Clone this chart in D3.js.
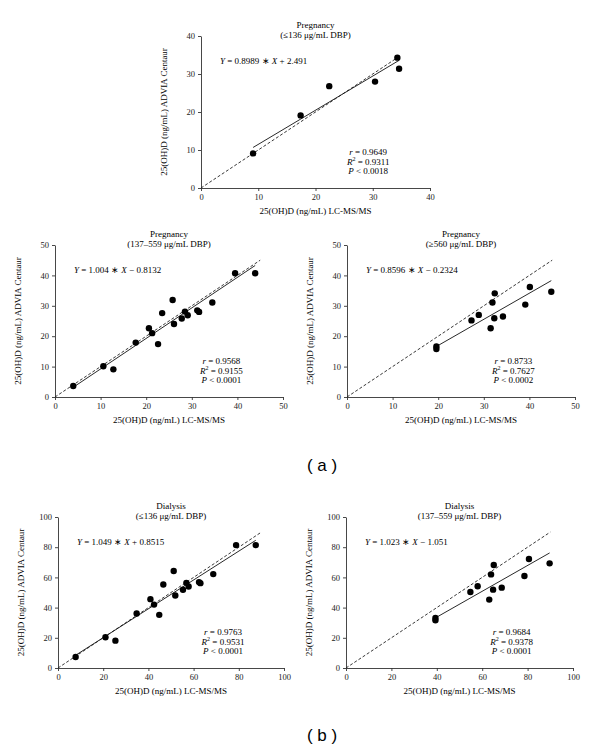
<!DOCTYPE html>
<html>
<head>
<meta charset="utf-8">
<script src="https://cdn.jsdelivr.net/npm/d3@7"></script>
<style>
  html, body { margin: 0; padding: 0; background: #fff; }
  svg { display: block; }
</style>
</head>
<body>
<svg id="chart" width="600" height="750"></svg>
<script>
// ---------------- DATA ----------------
// Panel titles
const panelTitles = ["Pregnancy", "Pregnancy", "Pregnancy", "Dialysis", "Dialysis"];
const panelSubtitles = ["(≤136 μg/mL DBP)", "(137–559 μg/mL DBP)", "(≥560 μg/mL DBP)", "(≤136 μg/mL DBP)", "(137–559 μg/mL DBP)"];

// Pregnancy ≤136
const pregLowX = [9.1, 17.4, 22.4, 30.4, 34.3, 34.6];
const pregLowY = [9.1, 19.1, 26.8, 28.0, 34.3, 31.4];
// Pregnancy 137–559
const pregMidX = [4.0, 10.6, 12.8, 17.7, 20.6, 21.3, 22.6, 23.5, 25.8, 26.1, 27.8, 28.5, 29.1, 31.2, 31.6, 34.5, 39.5, 43.9];
const pregMidY = [3.6, 10.1, 9.1, 17.9, 22.6, 21.0, 17.4, 27.6, 31.9, 24.0, 25.8, 28.1, 26.9, 28.5, 28.0, 31.1, 40.7, 40.7];
// Pregnancy ≥560
const pregHighX = [19.6, 19.6, 27.3, 28.9, 31.5, 31.9, 32.4, 32.3, 34.2, 39.1, 40.1, 44.8];
const pregHighY = [16.6, 15.8, 25.2, 27.0, 22.6, 31.1, 34.1, 25.9, 26.5, 30.4, 36.2, 34.6];
// Dialysis ≤136
const dialLowX = [7.8, 21.0, 25.4, 34.8, 40.9, 42.5, 44.8, 46.6, 51.2, 51.9, 55.3, 56.8, 57.8, 62.4, 63.0, 68.7, 78.8, 87.5];
const dialLowY = [7.3, 20.4, 18.1, 36.1, 45.6, 42.0, 35.2, 55.3, 64.2, 48.0, 51.8, 56.4, 54.0, 56.9, 56.2, 62.2, 81.4, 81.4];
// Dialysis 137–559
const dialMidX = [39.4, 39.4, 54.8, 58.0, 63.1, 63.9, 65.1, 64.8, 68.6, 78.6, 80.6, 89.7];
const dialMidY = [33.1, 31.6, 50.3, 54.1, 45.3, 62.0, 68.2, 51.9, 53.2, 60.9, 72.2, 69.3];

// Axis maxima and ticks
const axisMax = [40, 50, 50, 100, 100];
const ticks40 = [0, 10, 20, 30, 40];
const ticks50 = [0, 10, 20, 30, 40, 50];
const ticks100 = [0, 20, 40, 60, 80, 100];

// Regression equations (as printed)
const eqSlopeText = ["0.8989", "1.004", "0.8596", "1.049", "1.023"];
const eqSign = ["+", "−", "−", "+", "−"];
const eqInterceptText = ["2.491", "0.8132", "0.2324", "0.8515", "1.051"];
// Fitted lines as drawn in the figure
const fitSlope = [0.8989, 1.004, 0.8596, 0.955, 0.855];
const fitIntercept = [2.491, -0.8132, -0.2324, 1.0, -0.5];
// Line of identity extent (dashed)
const identityEnd = [34, 45, 45, 90, 90];

// Statistics
const statR = ["0.9649", "0.9568", "0.8733", "0.9763", "0.9684"];
const statR2 = ["0.9311", "0.9155", "0.7627", "0.9531", "0.9378"];
const statP = ["0.0018", "0.0001", "0.0002", "0.0001", "0.0001"];

const xLabel = "25(OH)D (ng/mL) LC-MS/MS";
const yLabel = "25(OH)D (ng/mL) ADVIA Centaur";
const groupLabels = ["( a )", "( b )"];

// ---------------- LAYOUT ----------------
const serif = "'Liberation Serif', 'Times New Roman', serif";
const svg = d3.select("#chart");

const panels = [
  { x: pregLowX, y: pregLowY, ticks: ticks40, box: [201, 430, 36, 188] },
  { x: pregMidX, y: pregMidY, ticks: ticks50, box: [55, 283, 245, 397] },
  { x: pregHighX, y: pregHighY, ticks: ticks50, box: [347, 575, 245, 397] },
  { x: dialLowX, y: dialLowY, ticks: ticks100, box: [58, 284, 517, 668] },
  { x: dialMidX, y: dialMidY, ticks: ticks100, box: [346, 573, 517, 668] }
];

panels.forEach((p, i) => {
  const [x0, x1, yT, yB] = p.box;
  const xs = d3.scaleLinear().domain([0, axisMax[i]]).range([x0, x1]);
  const ys = d3.scaleLinear().domain([0, axisMax[i]]).range([yB, yT]);
  const g = svg.append("g");

  // axes
  const xa = g.append("g").attr("transform", `translate(0,${yB})`)
    .call(d3.axisBottom(xs).tickValues(p.ticks).tickSize(3).tickSizeOuter(0).tickPadding(3));
  const ya = g.append("g").attr("transform", `translate(${x0},0)`)
    .call(d3.axisLeft(ys).tickValues(p.ticks).tickSize(3).tickSizeOuter(0).tickPadding(3));
  [xa, ya].forEach(a => {
    a.selectAll("text").attr("font-family", serif).attr("font-size", 8.5).attr("fill", "#222");
    a.selectAll("path, line").attr("stroke", "#333").attr("stroke-width", 0.9);
  });

  // identity line
  const idEnd = identityEnd[i];
  g.append("line")
    .attr("x1", xs(0)).attr("y1", ys(0)).attr("x2", xs(idEnd)).attr("y2", ys(idEnd))
    .attr("stroke", "#222").attr("stroke-width", 0.9).attr("stroke-dasharray", "3,2");

  // regression line
  const xmin = d3.min(p.x), xmax = d3.max(p.x);
  g.append("line")
    .attr("x1", xs(xmin)).attr("y1", ys(fitSlope[i] * xmin + fitIntercept[i]))
    .attr("x2", xs(xmax)).attr("y2", ys(fitSlope[i] * xmax + fitIntercept[i]))
    .attr("stroke", "#111").attr("stroke-width", 0.9);

  // points
  g.selectAll("circle.pt").data(p.x.map((v, k) => [v, p.y[k]])).join("circle")
    .attr("class", "pt")
    .attr("cx", d => xs(d[0])).attr("cy", d => ys(d[1])).attr("r", 3.2)
    .attr("fill", "#000");

  const cx = (x0 + x1) / 2;
  // title
  g.append("text").attr("x", cx).attr("y", yT - 8.5).attr("text-anchor", "middle")
    .attr("font-family", serif).attr("font-size", 9).text(panelTitles[i]);
  g.append("text").attr("x", cx).attr("y", yT + 1.5).attr("text-anchor", "middle")
    .attr("font-family", serif).attr("font-size", 9).text(panelSubtitles[i]);

  // axis labels
  g.append("text").attr("x", cx).attr("y", yB + 26).attr("text-anchor", "middle")
    .attr("font-family", serif).attr("font-size", 9).text(xLabel);
  g.append("text")
    .attr("transform", `translate(${x0 - 37},${(yT + yB) / 2}) rotate(-90)`)
    .attr("text-anchor", "middle").attr("dominant-baseline", "central")
    .attr("font-family", serif).attr("font-size", 9).text(yLabel);

  // equation
  const eq = g.append("text").attr("x", x0 + 19).attr("y", yT + 27.5)
    .attr("font-family", serif).attr("font-size", 9);
  eq.append("tspan").attr("font-style", "italic").text("Y");
  eq.append("tspan").text(" = " + eqSlopeText[i] + " ∗ ");
  eq.append("tspan").attr("font-style", "italic").text("X");
  eq.append("tspan").text(" " + eqSign[i] + " " + eqInterceptText[i]);

  // stats
  const scx = x0 + (x1 - x0) * 0.73;
  const sy = yB - 33;
  const t1 = g.append("text").attr("x", scx).attr("y", sy).attr("text-anchor", "middle")
    .attr("font-family", serif).attr("font-size", 9);
  t1.append("tspan").attr("font-style", "italic").text("r");
  t1.append("tspan").text(" = " + statR[i]);
  const t2 = g.append("text").attr("x", scx).attr("y", sy + 9.5).attr("text-anchor", "middle")
    .attr("font-family", serif).attr("font-size", 9);
  t2.append("tspan").attr("font-style", "italic").text("R");
  t2.append("tspan").attr("font-size", 6).attr("dy", -3.5).text("2");
  t2.append("tspan").attr("dy", 3.5).text(" = " + statR2[i]);
  const t3 = g.append("text").attr("x", scx).attr("y", sy + 19).attr("text-anchor", "middle")
    .attr("font-family", serif).attr("font-size", 9);
  t3.append("tspan").attr("font-style", "italic").text("P");
  t3.append("tspan").text(" < " + statP[i]);
});

// group labels
svg.append("text").attr("x", 322).attr("y", 471).attr("text-anchor", "middle")
  .attr("font-family", "'Liberation Sans', Arial, sans-serif").attr("font-size", 17)
  .attr("xml:space", "preserve").text(groupLabels[0]);
svg.append("text").attr("x", 322).attr("y", 741).attr("text-anchor", "middle")
  .attr("font-family", "'Liberation Sans', Arial, sans-serif").attr("font-size", 17)
  .attr("xml:space", "preserve").text(groupLabels[1]);
</script>
</body>
</html>
